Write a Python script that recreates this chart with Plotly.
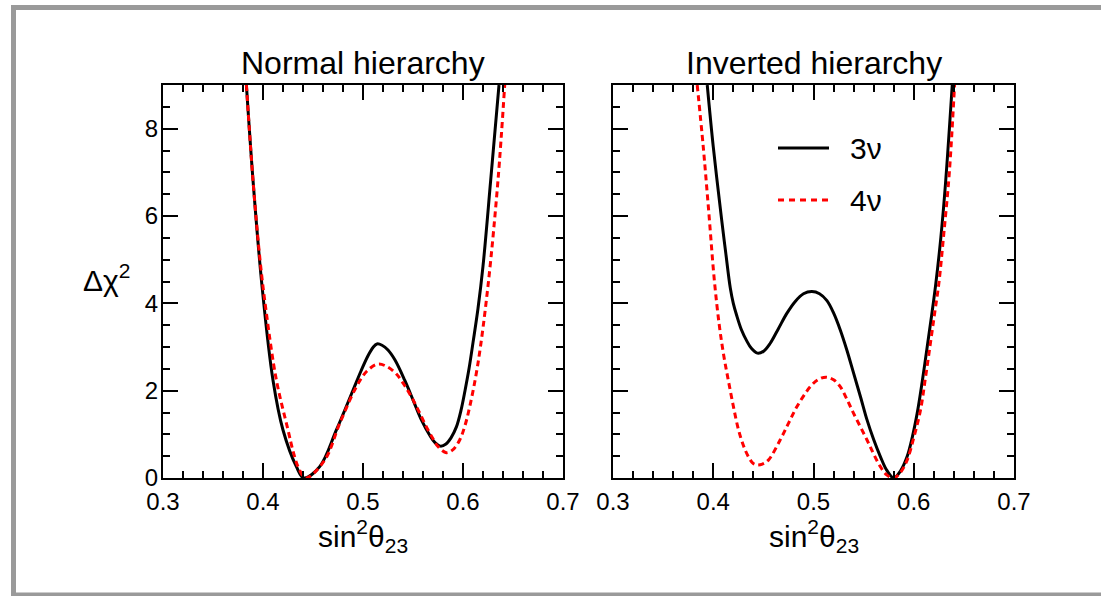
import plotly.graph_objects as go

# Delta chi^2 profiles versus sin^2(theta_23)
nh_3nu_x = [0.3834, 0.390, 0.399, 0.410, 0.420, 0.4334, 0.4407, 0.4567, 0.4734, 0.490,
            0.498, 0.505, 0.510, 0.514, 0.519, 0.525, 0.532, 0.5417, 0.550, 0.5584,
            0.5667, 0.572, 0.5774, 0.583, 0.588, 0.5934, 0.598, 0.602, 0.606, 0.610,
            0.615, 0.620, 0.6277, 0.636]
nh_3nu_y = [9.0, 6.82, 4.40, 2.24, 1.10, 0.26, 0.0, 0.26, 1.10, 2.01,
            2.45, 2.80, 2.99, 3.07, 3.04, 2.93, 2.70, 2.24, 1.79, 1.33,
            0.98, 0.81, 0.73, 0.78, 0.92, 1.17, 1.55, 2.0, 2.5, 3.10,
            3.88, 4.85, 6.82, 9.0]

nh_4nu_x = [0.3834, 0.390, 0.397, 0.4034, 0.4134, 0.425, 0.430, 0.435, 0.4427, 0.4617,
            0.4767, 0.4934, 0.504, 0.515, 0.524, 0.5334, 0.541, 0.5484, 0.556, 0.5634,
            0.570, 0.575, 0.5834, 0.590, 0.5967, 0.6017, 0.6067, 0.615, 0.625, 0.635, 0.6417]
nh_4nu_y = [9.0, 6.82, 5.0, 3.77, 2.24, 1.10, 0.62, 0.26, 0.0, 0.41,
            1.25, 2.09, 2.45, 2.61, 2.55, 2.38, 2.14, 1.86, 1.52, 1.17,
            0.90, 0.72, 0.58, 0.65, 0.87, 1.18, 1.63, 2.63, 4.40, 6.82, 9.0]

ih_3nu_x = [0.394, 0.400, 0.4084, 0.4125, 0.417, 0.420, 0.4234, 0.428, 0.4334, 0.438,
            0.444, 0.450, 0.4567, 0.465, 0.4734, 0.482, 0.490, 0.4984, 0.506, 0.5134,
            0.520, 0.5267, 0.5334, 0.540, 0.547, 0.5534, 0.560, 0.5667, 0.573, 0.580,
            0.587, 0.5934, 0.5984, 0.6034, 0.6084, 0.6134, 0.618, 0.622, 0.627, 0.6317, 0.6384]
ih_3nu_y = [9.0, 7.59, 5.91, 5.15, 4.35, 4.0, 3.72, 3.4, 3.14, 2.97,
            2.86, 2.90, 3.08, 3.42, 3.77, 4.05, 4.22, 4.27, 4.22, 4.06,
            3.78, 3.39, 2.92, 2.40, 1.85, 1.33, 0.88, 0.49, 0.18, 0.0,
            0.17, 0.49, 0.92, 1.48, 2.2, 3.0, 3.75, 4.45, 5.5, 6.75, 9.0]

ih_4nu_x = [0.384, 0.390, 0.3955, 0.401, 0.406, 0.4105, 0.415, 0.420, 0.425, 0.430,
            0.435, 0.4395, 0.4434, 0.449, 0.455, 0.4667, 0.475, 0.4834, 0.4967, 0.5045,
            0.5124, 0.520, 0.5267, 0.533, 0.540, 0.5534, 0.560, 0.5667, 0.573, 0.580,
            0.5865, 0.5934, 0.600, 0.6067, 0.6117, 0.6167, 0.621, 0.625, 0.630, 0.6355, 0.6407]
ih_4nu_y = [9.0, 7.59, 6.1, 4.55, 3.5, 2.8, 2.24, 1.65, 1.12, 0.75,
            0.49, 0.34, 0.30, 0.32, 0.41, 0.87, 1.25, 1.63, 2.09, 2.25,
            2.31, 2.25, 2.09, 1.82, 1.48, 0.87, 0.55, 0.26, 0.07, 0.0,
            0.12, 0.41, 0.92, 1.55, 2.3, 3.1, 3.8, 4.45, 5.6, 7.0, 9.0]

x_ticks = [0.3, 0.4, 0.5, 0.6, 0.7]
x_tick_text = ["0.3", "0.4", "0.5", "0.6", "0.7"]
y_ticks = [0, 2, 4, 6, 8]
y_tick_text = ["0", "2", "4", "6", "8"]

panel_titles = ["Normal hierarchy", "Inverted hierarchy"]
series_names = ["3ν", "4ν"]
x_title = "sin<sup>2</sup>θ<sub>23</sub>"
y_title = "Δχ<sup>2</sup>"

FONT = "Liberation Sans, Arial, Helvetica, sans-serif"
W, H = 1101, 596
ML, MR, MT, MB = 163, 87, 85, 118
PW, PH = W - ML - MR, H - MT - MB


def px(xp):
    return (xp - ML) / PW


def py(yp):
    return (H - MB - yp) / PH


black_line = dict(color="black", width=3)
red_line = dict(color="#ff0000", width=3, dash="6px,4px")

fig = go.Figure()
panels = [("x", "y", nh_3nu_x, nh_3nu_y, nh_4nu_x, nh_4nu_y),
          ("x2", "y2", ih_3nu_x, ih_3nu_y, ih_4nu_x, ih_4nu_y)]
for xa, ya, bx, by, rx, ry in panels:
    fig.add_trace(go.Scatter(x=bx, y=by, mode="lines", line=black_line,
                             line_shape="spline", xaxis=xa, yaxis=ya,
                             name=series_names[0], showlegend=False))
    fig.add_trace(go.Scatter(x=rx, y=ry, mode="lines", line=red_line,
                             line_shape="spline", xaxis=xa, yaxis=ya,
                             name=series_names[1], showlegend=False))

tick_font = dict(family=FONT, size=24, color="black")
xaxis_common = dict(
    range=[0.3, 0.7], tickvals=x_ticks, ticktext=x_tick_text,
    ticks="inside", ticklen=15, tickwidth=1.5, tickcolor="black",
    minor=dict(dtick=0.02, tick0=0.3, ticks="inside", ticklen=7,
               tickwidth=1.5, tickcolor="black"),
    showline=True, linecolor="black", linewidth=2, mirror="ticks",
    showgrid=False, zeroline=False, tickfont=tick_font, ticklabelstandoff=1,
)
yaxis_common = dict(
    range=[0, 9], tickvals=y_ticks, ticktext=y_tick_text,
    ticks="inside", ticklen=15, tickwidth=1.5, tickcolor="black",
    minor=dict(dtick=0.5, tick0=0, ticks="inside", ticklen=7,
               tickwidth=1.5, tickcolor="black"),
    showline=True, linecolor="black", linewidth=2, mirror="ticks",
    showgrid=False, zeroline=False, tickfont=tick_font, ticklabelstandoff=-2,
)

d1 = [0, px(563)]
d2 = [px(613), 1]
fig.update_layout(
    width=W, height=H,
    margin=dict(l=ML, r=MR, t=MT, b=MB),
    paper_bgcolor="white", plot_bgcolor="white",
    font=dict(family=FONT, size=24, color="black"),
    xaxis=dict(domain=d1, anchor="y", **xaxis_common),
    yaxis=dict(domain=[0, 1], anchor="x", **yaxis_common),
    xaxis2=dict(domain=d2, anchor="y2", **xaxis_common),
    yaxis2=dict(domain=[0, 1], anchor="x2", showticklabels=False, **yaxis_common),
    showlegend=False,
)

annotations = []
for dom, title in zip([d1, d2], panel_titles):
    cx = (dom[0] + dom[1]) / 2
    annotations.append(dict(text=title, x=cx, y=py(63), xref="paper", yref="paper",
                            xanchor="center", yanchor="middle", showarrow=False,
                            font=dict(family=FONT, size=32, color="black")))
    annotations.append(dict(text=x_title, x=cx, y=py(536), xref="paper", yref="paper",
                            xanchor="center", yanchor="middle", showarrow=False,
                            font=dict(family=FONT, size=30, color="black")))
annotations.append(dict(text=y_title, x=px(106), y=py(278), xref="paper", yref="paper",
                        xanchor="center", yanchor="middle", showarrow=False,
                        font=dict(family=FONT, size=30, color="black")))

# legend drawn inside the inverted-hierarchy panel
legend_rows = [(148, series_names[0], dict(color="black", width=3)),
               (200, series_names[1], dict(color="#ff0000", width=3, dash="6px,5px"))]
shapes = []
for yrow, label, lstyle in legend_rows:
    shapes.append(dict(type="line", xref="paper", yref="paper",
                       x0=px(778), x1=px(829), y0=py(yrow), y1=py(yrow), line=lstyle))
    annotations.append(dict(text=label, x=px(848), y=py(yrow), xref="paper", yref="paper",
                            xanchor="left", yanchor="middle", showarrow=False,
                            font=dict(family=FONT, size=30, color="black")))

# grey canvas frame
shapes.append(dict(type="rect", xref="paper", yref="paper",
                   x0=px(13.5), x1=px(1115), y0=py(7.5), y1=py(595),
                   line=dict(color="#9a9a9a", width=5), layer="below"))

fig.update_layout(annotations=annotations, shapes=shapes)
fig.write_html("out.html")
